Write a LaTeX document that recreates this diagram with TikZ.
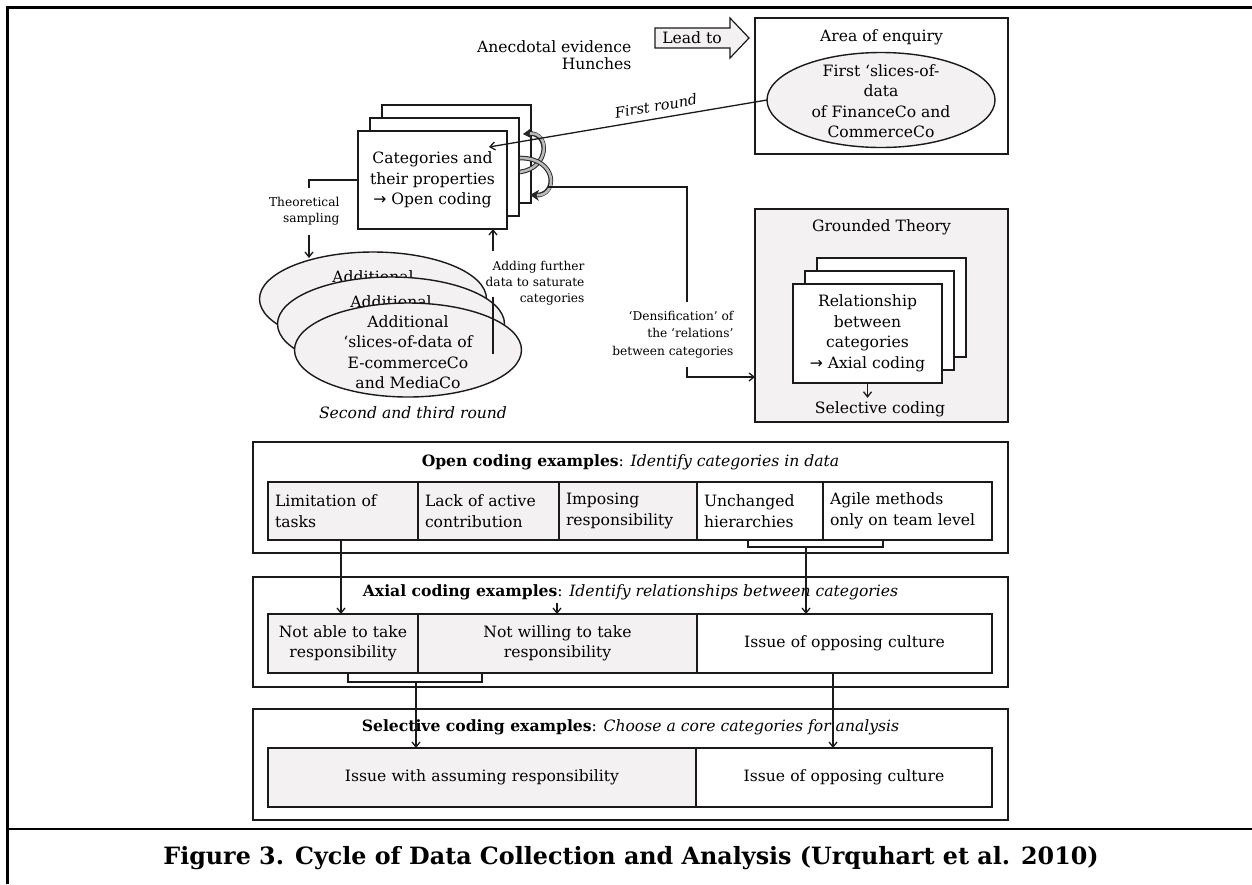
\documentclass[tikz,border=0pt]{standalone}
\usepackage{fontspec}
\setmainfont{DejaVu Serif}
\newfontfamily\arrowfont{DejaVu Sans}
\usetikzlibrary{shapes.geometric,arrows.meta}
\definecolor{lg}{HTML}{F3F1F2}
\definecolor{ln}{HTML}{1A1A1A}
\newcommand\fmain{\fontsize{15.6}{20.5}\selectfont}
\newcommand\fsmall{\fontsize{12.2}{16}\selectfont}
\newcommand\fcap{\fontsize{23.8}{28}\selectfont\bfseries}
\newcommand\myarr{{\arrowfont →}}
\begin{document}
\begin{tikzpicture}[x=1pt,y=-1pt,
  box/.style={draw=ln, line width=1.4pt, fill=white, inner sep=0pt, outer sep=0pt, anchor=north west},
  gbox/.style={box, fill=lg},
  ell/.style={ellipse, draw=ln, line width=1.4pt, fill=lg, inner sep=0pt, outer sep=0pt},
  cellL/.style={box, inner xsep=7pt, inner ysep=0pt, align=left, font=\fmain},
  cellC/.style={box, inner xsep=7pt, inner ysep=0pt, align=center, font=\fmain},
  plain/.style={draw=ln, line width=1.3pt},
  conn/.style={draw=ln, line width=1.3pt, -{Straight Barb[length=5pt,width=8pt]}},
  curvo/.style={draw=gray!30!black, line width=4.6pt, -{Stealth[length=9pt,width=11pt]}},
  curvi/.style={draw=gray!55, line width=2.6pt, shorten >=7pt},
  frame/.style={draw=black, line width=2.5pt}
]
\useasboundingbox (0,0) rectangle (1252,884);
\fill[white] (0,0) rectangle (1252,884);

% outer frame
\draw[frame] (7.5,884) -- (7.5,7.5) -- (1252,7.5);
\draw[frame] (7.5,829) -- (1252,829);

% top: anecdotal evidence
\node[font=\fontsize{15.6}{16.5}\selectfont, align=right, anchor=east] (anec) at (635,55) {Anecdotal evidence\\Hunches};
\draw[line width=1.2pt, draw=ln, fill=lg] (655,28) -- (730,28) -- (730,18) -- (749,38) -- (730,58) -- (730,48) -- (655,48) -- cycle;
\node[font=\fmain] (lead) at (692,38) {Lead to};

% area of enquiry
\node[box, minimum width=253pt, minimum height=136pt] (area) at (755,18) {};
\node[font=\fmain] (areat) at (881.5,37) {Area of enquiry};
\node[ell, minimum width=228pt, minimum height=95pt] (first) at (881,100) {};
\node[font=\fmain, align=center] (firstt) at (881,101) {First ‘slices-of-\\data\\of FinanceCo and\\CommerceCo};

% categories stack
\node[box, minimum width=149pt, minimum height=98pt] (cat3) at (382,105) {};
\node[box, minimum width=149pt, minimum height=98pt] (cat2) at (370,118) {};
\node[box, minimum width=149pt, minimum height=98pt, align=center, font=\fmain] (cat) at (358,131) {Categories and\\their properties\\\myarr{} Open coding};

% curved gray arrows
\coordinate (ca1s) at (520,172);
\coordinate (ca1e) at (523,134);
\coordinate (ca2s) at (520,158);
\coordinate (ca2e) at (530,195);
\draw[curvo] (ca1s) .. controls (550,168) and (550,132) .. (ca1e);
\draw[curvi] (ca1s) .. controls (550,168) and (550,132) .. (ca1e);
\draw[curvo] (ca2s) .. controls (558,158) and (558,196) .. (ca2e);
\draw[curvi] (ca2s) .. controls (558,158) and (558,196) .. (ca2e);

% first round arrow
\coordinate (frt) at (489,147);
\draw[conn] (first.west) -- (frt);
\node[font=\fontsize{14.5}{16}\selectfont\itshape, rotate=9.6] (frl) at (656,106) {First round};

% theoretical sampling
\coordinate (ts1) at (309,188);
\coordinate (ts2) at (309,235);
\coordinate (ts3) at (309,258);
\draw[plain] (cat.west) -- (ts1 |- cat.west) -- (ts1);
\node[font=\fsmall, align=right, anchor=east] (tsl) at (343,211) {Theoretical\\sampling};
\draw[conn] (ts2) -- (ts3);

% additional ellipses
\node[ell, minimum width=227pt, minimum height=94pt] (add3) at (373,299) {};
\node[font=\fmain, anchor=base] (add3t) at (373,282) {Additional};
\node[ell, minimum width=227pt, minimum height=94pt] (add2) at (391,324) {};
\node[font=\fmain, anchor=base] (add2t) at (391,307) {Additional};
\node[ell, minimum width=227pt, minimum height=94pt] (add1) at (408,350) {};
\node[font=\fmain, align=center] (add1t) at (408,352) {Additional\\‘slices-of-data of\\E-commerceCo\\and MediaCo};
\node[font=\fmain\itshape] (round23) at (413,413) {Second and third round};

% adding further data
\coordinate (af1) at (493,354);
\coordinate (af2) at (493,297);
\coordinate (af3) at (493,251);
\draw[plain] (af1) -- (af2);
\draw[conn] (af3) -- (af3 |- cat.south);
\node[font=\fsmall, align=right, anchor=east] (afl) at (588,283) {Adding further\\data to saturate\\categories};

% grounded theory
\node[gbox, minimum width=253pt, minimum height=213pt] (gt) at (755,209) {};
\node[font=\fmain] (gtt) at (881.5,227) {Grounded Theory};
\node[box, minimum width=149pt, minimum height=99pt] (gs3) at (817,258) {};
\node[box, minimum width=149pt, minimum height=99pt] (gs2) at (805,271) {};
\node[box, minimum width=149pt, minimum height=99pt, align=center, font=\fmain] (gs) at (793,284) {Relationship\\between\\categories\\\myarr{} Axial coding};
\node[font=\fmain] (selc) at (880,409) {Selective coding};
\draw[conn] (gs.south) -- (gs.south |- selc.north);

% densification connector
\coordinate (d0) at (548,187);
\coordinate (d1) at (687,302);
\coordinate (d2) at (687,367);
\coordinate (d3) at (687,377);
\draw[plain] (d0) -- (d0 -| d1) -- (d1);
\draw[conn] (d2) -- (d3) -- (gt.west |- d3);
\node[font=\fontsize{12.2}{17.5}\selectfont, align=right, anchor=east] (dl) at (737,334.5) {‘Densification’ of\\the ‘relations’\\between categories};

% open coding
\node[box, minimum width=755pt, minimum height=111pt] (open) at (253,442) {};
\node[font=\fmain] (opent) at (630.5,462) {\textbf{Open coding examples}: \textit{Identify categories in data}};
\node[cellL, fill=lg, minimum width=150pt, text width=136pt, minimum height=58pt] (o1) at (268,482) {Limitation of\\tasks};
\node[cellL, fill=lg, minimum width=141pt, text width=127pt, minimum height=58pt] (o2) at (418,482) {Lack of active\\contribution};
\node[cellL, fill=lg, minimum width=138pt, text width=124pt, minimum height=58pt] (o3) at (559,482) {Imposing\\responsibility};
\node[cellL, minimum width=126pt, text width=112pt, minimum height=58pt] (o4) at (697,482) {Unchanged\\hierarchies};
\node[cellL, minimum width=169pt, text width=155pt, minimum height=58pt] (o5) at (823,482) {Agile methods\\only on team level};

% axial coding
\node[box, minimum width=755pt, minimum height=110pt] (axial) at (253,577) {};
\node[font=\fmain] (axt) at (630.5,592) {\textbf{Axial coding examples}: \textit{Identify relationships between categories}};
\node[cellC, fill=lg, minimum width=150pt, text width=136pt, minimum height=59pt] (a1) at (268,614) {Not able to take\\responsibility};
\node[cellC, fill=lg, minimum width=279pt, text width=265pt, minimum height=59pt] (a2) at (418,614) {Not willing to take\\responsibility};
\node[cellC, minimum width=295pt, text width=281pt, minimum height=59pt] (a3) at (697,614) {Issue of opposing culture};

% selective coding
\node[box, minimum width=755pt, minimum height=111pt] (sel) at (253,709) {};
\node[font=\fmain] (selt) at (630.5,727) {\textbf{Selective coding examples}: \textit{Choose a core categories for analysis}};
\node[cellC, fill=lg, minimum width=428pt, text width=414pt, minimum height=59pt] (s1) at (268,748) {Issue with assuming responsibility};
\node[cellC, minimum width=296pt, text width=282pt, minimum height=59pt] (s2) at (696,748) {Issue of opposing culture};

% brackets and connectors between levels
\coordinate (b1l) at (748,540);
\coordinate (b1r) at (883,540);
\coordinate (b1c) at (806,547);
\draw[plain] (b1l) -- (748,547) -- (883,547) -- (b1r);
\draw[conn] (b1c) -- (b1c |- a3.north);
\coordinate (l1) at (341,540);
\draw[conn] (l1) -- (l1 |- a1.north);
\coordinate (m1) at (557,603);
\draw[conn] (m1) -- (m1 |- a2.north);
\coordinate (b2l) at (348,673);
\coordinate (b2r) at (482,673);
\coordinate (b2c) at (416,682);
\draw[plain] (b2l) -- (348,682) -- (482,682) -- (b2r);
\draw[conn] (b2c) -- (b2c |- s1.north);
\coordinate (l2) at (833,673);
\draw[conn] (l2) -- (l2 |- s2.north);

% caption
\node[font=\fcap] (cap) at (631,858) {Figure 3. Cycle of Data Collection and Analysis (Urquhart et al. 2010)};
\end{tikzpicture}
\end{document}
